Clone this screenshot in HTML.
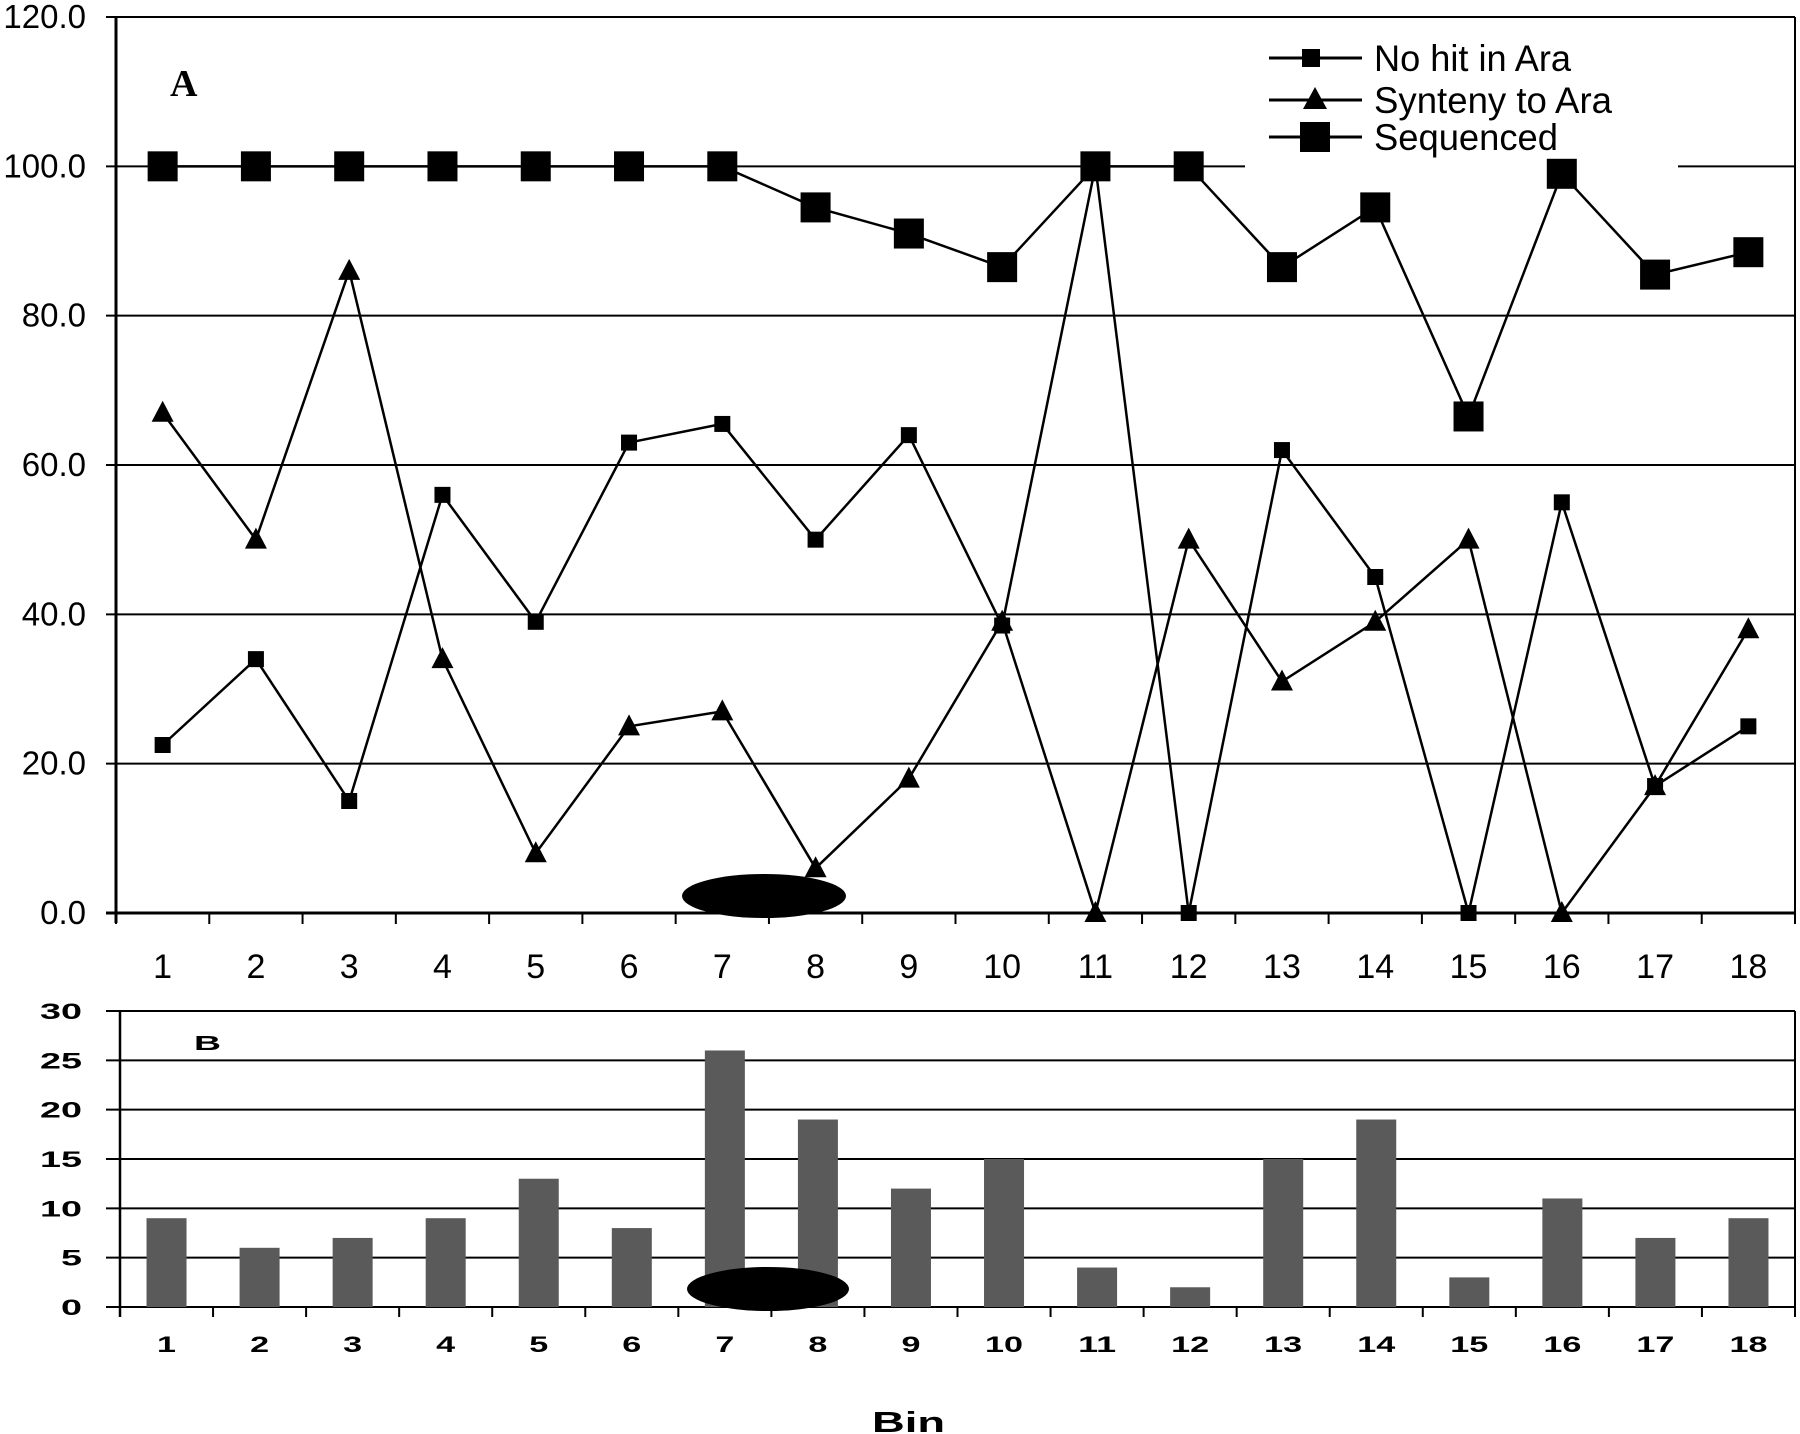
<!DOCTYPE html>
<html><head><meta charset="utf-8"><style>
html,body{margin:0;padding:0;background:#fff;}
svg{display:block;}
text{font-family:"Liberation Sans",Arial,sans-serif;fill:#000;}
</style></head><body>
<svg id="chart" width="1800" height="1434" viewBox="0 0 1800 1434" xmlns="http://www.w3.org/2000/svg">
<g id="panelA"></g>
<g id="panelB"></g>
</svg>
<script>
const categories = ["1","2","3","4","5","6","7","8","9","10","11","12","13","14","15","16","17","18"];
const noHitValues = [22.5,34,15,56,39,63,65.5,50,64,38.5,100,0,62,45,0,55,17,25];
const syntenyValues = [67,50,86,34,8,25,27,6,18,39,0,50,31,39,50,0,17,38];
const sequencedValues = [100,100,100,100,100,100,100,94.5,91,86.5,100,100,86.5,94.5,66.5,99,85.5,88.5];
const topTicks = [0,20,40,60,80,100,120];
const topTickLabels = ["0.0","20.0","40.0","60.0","80.0","100.0","120.0"];
const barValues = [9,6,7,9,13,8,26,19,12,15,4,2,15,19,3,11,7,9];
const botTicks = [0,5,10,15,20,25,30];

const NS="http://www.w3.org/2000/svg";
function mk(parent,tag,attrs,txt){const e=document.createElementNS(NS,tag);for(const k in attrs)e.setAttribute(k,attrs[k]);if(txt!==undefined)e.textContent=txt;parent.appendChild(e);return e;}

// ---- Panel A ----
const topG=document.getElementById('panelA');
const aL=116,aR=1795,aT=17,aB=913;
const ax=i=>aL+(i+0.5)*(aR-aL)/categories.length;
const ay=v=>aB-(v/120)*(aB-aT);
topTicks.forEach((t,k)=>{
  const g=mk(topG,'line',{x1:106,x2:aR,y1:ay(t),y2:ay(t),stroke:'#000','stroke-width':(t===0?3:2)});
  
  
  const tl=mk(topG,'text',{x:86,y:ay(t)+11,'text-anchor':'end','font-size':33},topTickLabels[k]);
  
  
});
const lb=mk(topG,'rect',{x:1245,y:22,width:433,height:150,fill:'#fff'});


const axl=mk(topG,'line',{x1:aL,x2:aL,y1:aT,y2:aB+10,stroke:'#000','stroke-width':3});


const axr=mk(topG,'line',{x1:aR,x2:aR,y1:aT,y2:aB+10,stroke:'#000','stroke-width':2});


for(let k=0;k<=categories.length;k++){
  const x=aL+k*(aR-aL)/categories.length;
  const tk=mk(topG,'line',{x1:x,x2:x,y1:aB,y2:aB+11,stroke:'#000','stroke-width':2});
  
  
}
categories.forEach((c,i)=>{
  const t=mk(topG,'text',{x:ax(i),y:978,'text-anchor':'middle','font-size':34},c);
  
  
});
const e1=mk(topG,'ellipse',{cx:764,cy:896,rx:82,ry:22,fill:'#000'});


function poly(vals,name){
  const p=mk(topG,'polyline',{points:vals.map((v,i)=>ax(i)+','+ay(v)).join(' '),fill:'none',stroke:'#000','stroke-width':2.5});
  
  
}
poly(noHitValues,'line-no-hit');
poly(syntenyValues,'line-synteny');
poly(sequencedValues,'line-sequenced');
noHitValues.forEach((v,i)=>{
  const r=mk(topG,'rect',{x:ax(i)-8,y:ay(v)-8,width:16,height:16,fill:'#000'});
  
  
});
syntenyValues.forEach((v,i)=>{
  const x=ax(i),y=ay(v);
  const p=mk(topG,'polygon',{points:`${x},${y-12} ${x-11},${y+9} ${x+11},${y+9}`,fill:'#000'});
  
  
});
sequencedValues.forEach((v,i)=>{
  const r=mk(topG,'rect',{x:ax(i)-15,y:ay(v)-15,width:30,height:30,fill:'#000'});
  
  
});
const pa=mk(topG,'text',{x:170,y:96,style:'font-family:"Liberation Serif",serif;font-size:38px;font-weight:bold'},'A');


const legY=[58,100,137], legN=['No hit in Ara','Synteny to Ara','Sequenced'], legW=[197,238,184];
legY.forEach((y,k)=>{
  const l=mk(topG,'line',{x1:1269,x2:1362,y1:y,y2:y,stroke:'#000','stroke-width':3});
  
  
  let m;
  if(k===0) m=mk(topG,'rect',{x:1302,y:y-9,width:18,height:18,fill:'#000'});
  else if(k===1) m=mk(topG,'polygon',{points:`1315,${y-13} 1303,${y+9} 1327,${y+9}`,fill:'#000'});
  else m=mk(topG,'rect',{x:1300,y:y-15,width:30,height:30,fill:'#000'});
  
  
  const t=mk(topG,'text',{x:1374,y:y+13,'font-size':37,textLength:legW[k],lengthAdjust:'spacingAndGlyphs'},legN[k]);
  
  
});

// ---- Panel B ----
const botG=document.getElementById('panelB');
const bL=120,bR=1795,bT=1011,bB=1307;
const bx=i=>bL+(i+0.5)*(bR-bL)/categories.length;
const by=v=>bB-(v/30)*(bB-bT);
botTicks.forEach(t=>{
  const g=mk(botG,'line',{x1:106,x2:bR,y1:by(t),y2:by(t),stroke:'#000','stroke-width':2});
  
  
  const s=String(t);
  const tl=mk(botG,'text',{x:82,y:by(t)+8,'text-anchor':'end','font-size':22,'font-weight':'bold',textLength:s.length*21,lengthAdjust:'spacingAndGlyphs'},s);
  
  
});
barValues.forEach((v,i)=>{
  const r=mk(botG,'rect',{x:bx(i)-20,y:by(v),width:40,height:bB-by(v),fill:'#5a5a5a'});
  
  
});
const bl=mk(botG,'line',{x1:bL,x2:bL,y1:bT,y2:bB+10,stroke:'#000','stroke-width':2.5});


const br=mk(botG,'line',{x1:bR,x2:bR,y1:bT,y2:bB,stroke:'#000','stroke-width':2});


for(let k=0;k<=categories.length;k++){
  const x=bL+k*(bR-bL)/categories.length;
  const tk=mk(botG,'line',{x1:x,x2:x,y1:bB,y2:bB+10,stroke:'#000','stroke-width':2});
  
  
}
categories.forEach((c,i)=>{
  const t=mk(botG,'text',{x:bx(i),y:1352,'text-anchor':'middle','font-size':22,'font-weight':'bold',textLength:c.length*19,lengthAdjust:'spacingAndGlyphs'},c);
  
  
});
const e2=mk(botG,'ellipse',{cx:768,cy:1289,rx:81,ry:22,fill:'#000'});


const pb=mk(botG,'text',{x:194,y:1050,'font-size':20,'font-weight':'bold',textLength:27,lengthAdjust:'spacingAndGlyphs'},'B');


const xt=mk(botG,'text',{x:872,y:1432,'font-size':29,'font-weight':'bold',textLength:73,lengthAdjust:'spacingAndGlyphs'},'Bin');


</script>
</body></html>
